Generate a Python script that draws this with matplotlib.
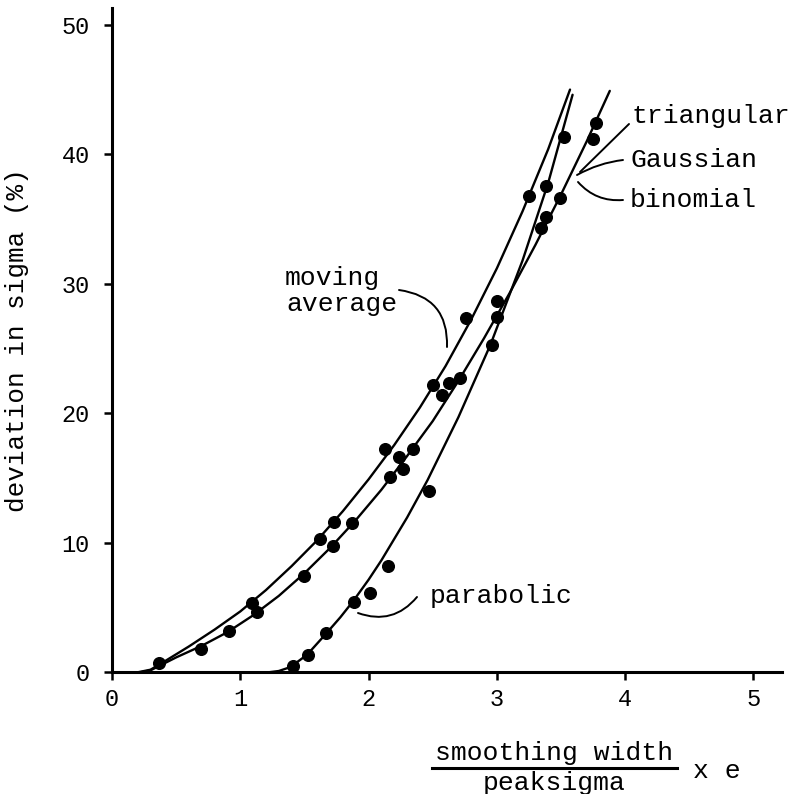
import matplotlib
matplotlib.use("Agg")
import matplotlib.pyplot as plt
from matplotlib.lines import Line2D

# ---- curves (smoothing width / peaksigma vs deviation in sigma, %) ----
ma_x = [0.20, 0.30, 0.37, 0.60, 0.80, 1.00, 1.20, 1.40, 1.60, 1.80, 2.00, 2.20,
        2.40, 2.60, 2.80, 3.00, 3.20, 3.40, 3.57]
ma_y = [0.0, 0.2, 0.6, 2.0, 3.3, 4.7, 6.35, 8.2, 10.2, 12.45, 14.9, 17.55,
        20.45, 23.65, 27.25, 31.2, 35.6, 40.4, 45.0]

tri_x = [0.22, 0.30, 0.37, 0.50, 0.70, 0.90, 1.10, 1.30, 1.50, 1.70, 1.90, 2.10,
         2.30, 2.50, 2.70, 2.90, 3.10, 3.30, 3.50, 3.70, 3.88]
tri_y = [0.0, 0.15, 0.5, 1.15, 2.05, 3.1, 4.4, 5.9, 7.65, 9.6, 11.75, 14.1,
         16.7, 19.4, 22.5, 25.8, 29.3, 33.0, 36.9, 41.0, 44.9]

par_x = [1.22, 1.30, 1.39, 1.52, 1.67, 1.78, 1.88, 2.00, 2.10, 2.30, 2.46, 2.70,
         2.95, 3.20, 3.40, 3.59]
par_y = [0.0, 0.1, 0.4, 1.35, 3.0, 4.25, 5.5, 7.15, 8.65, 11.95, 14.85, 19.7,
         25.3, 31.8, 37.8, 44.6]

# ---- measured points ----
ma_pts_x = [0.37, 1.09, 1.62, 1.73, 2.13, 2.50, 2.76, 3.25]
ma_pts_y = [0.70, 5.38, 10.27, 11.63, 17.23, 22.19, 27.34, 36.79]

tri_pts_x = [0.69, 0.91, 1.13, 1.50, 1.72, 1.87, 2.17, 2.24, 2.27, 2.35, 2.57,
             2.63, 2.71, 3.00, 3.00, 3.34, 3.38, 3.49, 3.75, 3.77]
tri_pts_y = [1.80, 3.19, 4.68, 7.44, 9.76, 11.56, 15.05, 16.65, 15.70, 17.23,
             21.42, 22.32, 22.76, 28.70, 27.42, 34.34, 35.15, 36.61, 41.17, 42.45]

par_pts_x = [1.41, 1.53, 1.67, 1.89, 2.01, 2.15, 2.47, 2.96, 3.38, 3.52]
par_pts_y = [0.49, 1.30, 3.01, 5.45, 6.10, 8.21, 14.00, 25.28, 37.56, 41.33]

x_ticks = [0, 1, 2, 3, 4, 5]
y_ticks = [0, 10, 20, 30, 40, 50]

FONT = "Liberation Mono"
W, H = 793, 794

fig = plt.figure(figsize=(W / 100, H / 100), dpi=100)
fig.patch.set_facecolor("white")

# axes box in pixel terms: origin at (112, 672), top at y=8, right end at x=782
ax = fig.add_axes([112 / W, (H - 672.3) / H, (781.7 - 112) / W, (672.3 - 8) / H])
ax.set_xlim(0, 5.22)
ax.set_ylim(0, 51.3)
ax.set_facecolor("white")

for side in ("top", "right"):
    ax.spines[side].set_visible(False)
for side in ("left", "bottom"):
    ax.spines[side].set_linewidth(2.2)
    ax.spines[side].set_color("black")

ax.set_xticks(x_ticks)
ax.set_yticks(y_ticks)
ax.set_xticklabels([str(t) for t in x_ticks], fontfamily=FONT, fontsize=17)
ax.set_yticklabels([str(t) for t in y_ticks], fontfamily=FONT, fontsize=17)
ax.tick_params(axis="x", direction="out", length=6, width=1.8, pad=5)
ax.tick_params(axis="y", direction="out", length=6, width=1.8, pad=10)

line_kw = dict(color="black", linewidth=1.7, solid_capstyle="round",
               solid_joinstyle="round")
ax.plot(ma_x, ma_y, **line_kw)
ax.plot(tri_x, tri_y, **line_kw)
ax.plot(par_x, par_y, **line_kw)

dot_kw = dict(linestyle="none", marker="o", markersize=8.4, color="black")
ax.plot(ma_pts_x, ma_pts_y, **dot_kw)
ax.plot(tri_pts_x, tri_pts_y, **dot_kw)
ax.plot(par_pts_x, par_pts_y, **dot_kw)


def fp(px, py):
    """pixel position measured from the top-left corner -> figure pixels"""
    return (px, H - py)


txt_kw = dict(xycoords="figure pixels", fontfamily=FONT, fontsize=19,
              color="black", va="baseline", ha="left")
ax.annotate("moving", fp(285, 285), **txt_kw)
ax.annotate("average", fp(286, 311), **txt_kw)
ax.annotate("parabolic", fp(430, 603), **txt_kw)
ax.annotate("triangular", fp(631, 123), **txt_kw)
ax.annotate("Gaussian", fp(630, 167), **txt_kw)
ax.annotate("binomial", fp(630, 207), **txt_kw)


def leader(p0, p1, rad):
    ax.annotate("", xy=fp(*p1), xytext=fp(*p0), xycoords="figure pixels",
                textcoords="figure pixels",
                arrowprops=dict(arrowstyle="-", color="black", lw=1.4,
                                shrinkA=0, shrinkB=0,
                                connectionstyle=f"arc3,rad={rad}"))


leader((399, 290), (447, 347), -0.45)
leader((358, 613), (417, 597), 0.35)
leader((629, 124), (580, 172), 0.0)
leader((623, 160), (577, 175), 0.1)
leader((623, 200), (578, 182), -0.25)

# axis titles
fig.text(17 / W, 1 - 340 / H, "deviation in sigma (%)", rotation=90,
         ha="center", va="center", fontfamily=FONT, fontsize=18.7)
fig.text(554 / W, 1 - 760 / H, "smoothing width", ha="center", va="baseline",
         fontfamily=FONT, fontsize=19)
fig.text(554 / W, 1 - 790 / H, "peaksigma", ha="center", va="baseline",
         fontfamily=FONT, fontsize=19)
fig.text(693 / W, 1 - 778 / H, "x e", ha="left", va="baseline",
         fontfamily=FONT, fontsize=19)
fig.add_artist(Line2D([431.7 / W, 676.7 / W], [1 - 768 / H, 1 - 768 / H],
                      color="black", linewidth=2.2, transform=fig.transFigure))

fig.savefig("out.png", dpi=100, facecolor="white")
